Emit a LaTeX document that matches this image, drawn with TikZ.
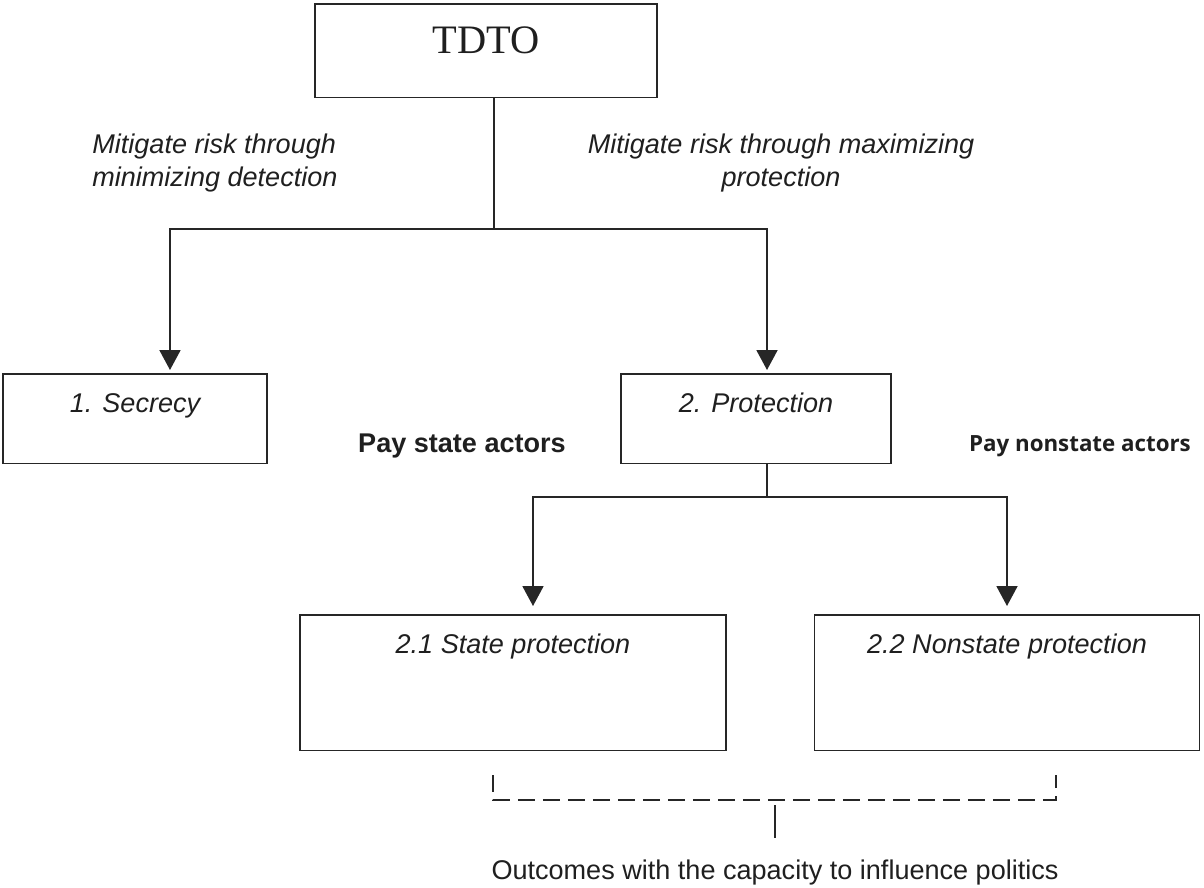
\documentclass[tikz,border=0pt]{standalone}
\usepackage{fontspec}
\setmainfont{Liberation Sans}
\newfontfamily\tdtofont{Liberation Serif}
\newfontfamily\payfont{Open Sans}
\usetikzlibrary{arrows.meta}

\tikzstyle{mainbox} = [
    rectangle,
    draw=black!85,
    line width=0.85pt,
    inner sep=0pt,
    font=\itshape\fontsize{15.4}{18.5}\selectfont
]
\tikzstyle{smallbox} = [mainbox, text height=0.78cm, text depth=1.02cm]
\tikzstyle{largebox} = [mainbox, text height=0.78cm, text depth=1.94cm]
\tikzstyle{risklabel} = [
    inner sep=0pt,
    font=\itshape\fontsize{15.4}{18.7}\selectfont
]
\tikzstyle{paylabel} = [
    inner sep=0pt,
    anchor=base,
    font=\bfseries\fontsize{15.4}{18.5}\selectfont
]
\tikzstyle{link} = [line width=1.1pt, draw=black!85]
\tikzstyle{arrow} = [link, -{Triangle[width=0.42cm,length=0.4cm]}]
\tikzstyle{bracket} = [line width=1.1pt, draw=black!85, dash pattern=on 0.34cm off 0.16cm]

\begin{document}
\begin{tikzpicture}[x=0.02cm, y=-0.02cm, color=black!88]
\useasboundingbox (0,0) rectangle (1204,887);

\node (tdto) [mainbox, anchor=north, minimum width=6.84cm,
    text height=1.0cm, text depth=0.88cm,
    font=\tdtofont\fontsize{23}{23}\selectfont] at (486,3) {TDTO};

\node (detection) [risklabel, align=left, anchor=north west] at (92,134)
{Mitigate risk through\\
minimizing detection};

\node (maximizing) [risklabel, align=center, anchor=north] at (781,134)
{Mitigate risk through maximizing\\
protection};

\node (secrecy) [smallbox, anchor=north, minimum width=5.28cm] at (135,373) {1. Secrecy};

\node (protection) [smallbox, anchor=north, minimum width=5.4cm] at (756,373) {2. Protection};

\node (paystate) [paylabel] at (462,452) {Pay state actors};

\node (paynonstate) [paylabel, font=\payfont\bfseries\fontsize{12.7}{15}\selectfont] at (1080,451)
{Pay nonstate actors};

\node (stateprot) [largebox, anchor=north, minimum width=8.52cm] at (513,614) {2.1 State protection};

\node (nonstateprot) [largebox, anchor=north, minimum width=7.7cm] at (1007,614) {2.2 Nonstate protection};

\node (outcomes) [inner sep=0pt, anchor=base, font=\fontsize{15.4}{18.5}\selectfont] at (775,879)
{Outcomes with the capacity to influence politics};

\coordinate (split) at (494,229);
\coordinate (protsplit) at (767,497);
\coordinate (braceleft) at (493,775);
\coordinate (braceright) at (1056,775);
\coordinate (bracemid) at (775,800);

% Arrows
\draw [link] (tdto.south -| split) -- (split);
\draw [arrow] (split) -| ([xshift=0.7cm,yshift=0.06cm]secrecy.north);
\draw [arrow] (split) -| ([xshift=0.22cm,yshift=0.06cm]protection.north);
\draw [link] (protection.south -| protsplit) -- (protsplit);
\draw [arrow] (protsplit) -| ([xshift=0.4cm,yshift=0.16cm]stateprot.north);
\draw [arrow] (protsplit) -| ([yshift=0.16cm]nonstateprot.north);

% Bracket
\draw [bracket] (braceleft) |- (bracemid) -| (braceright);
\draw [link] ([yshift=-0.1cm]bracemid) -- ([yshift=-0.76cm]bracemid);

\end{tikzpicture}
\end{document}
